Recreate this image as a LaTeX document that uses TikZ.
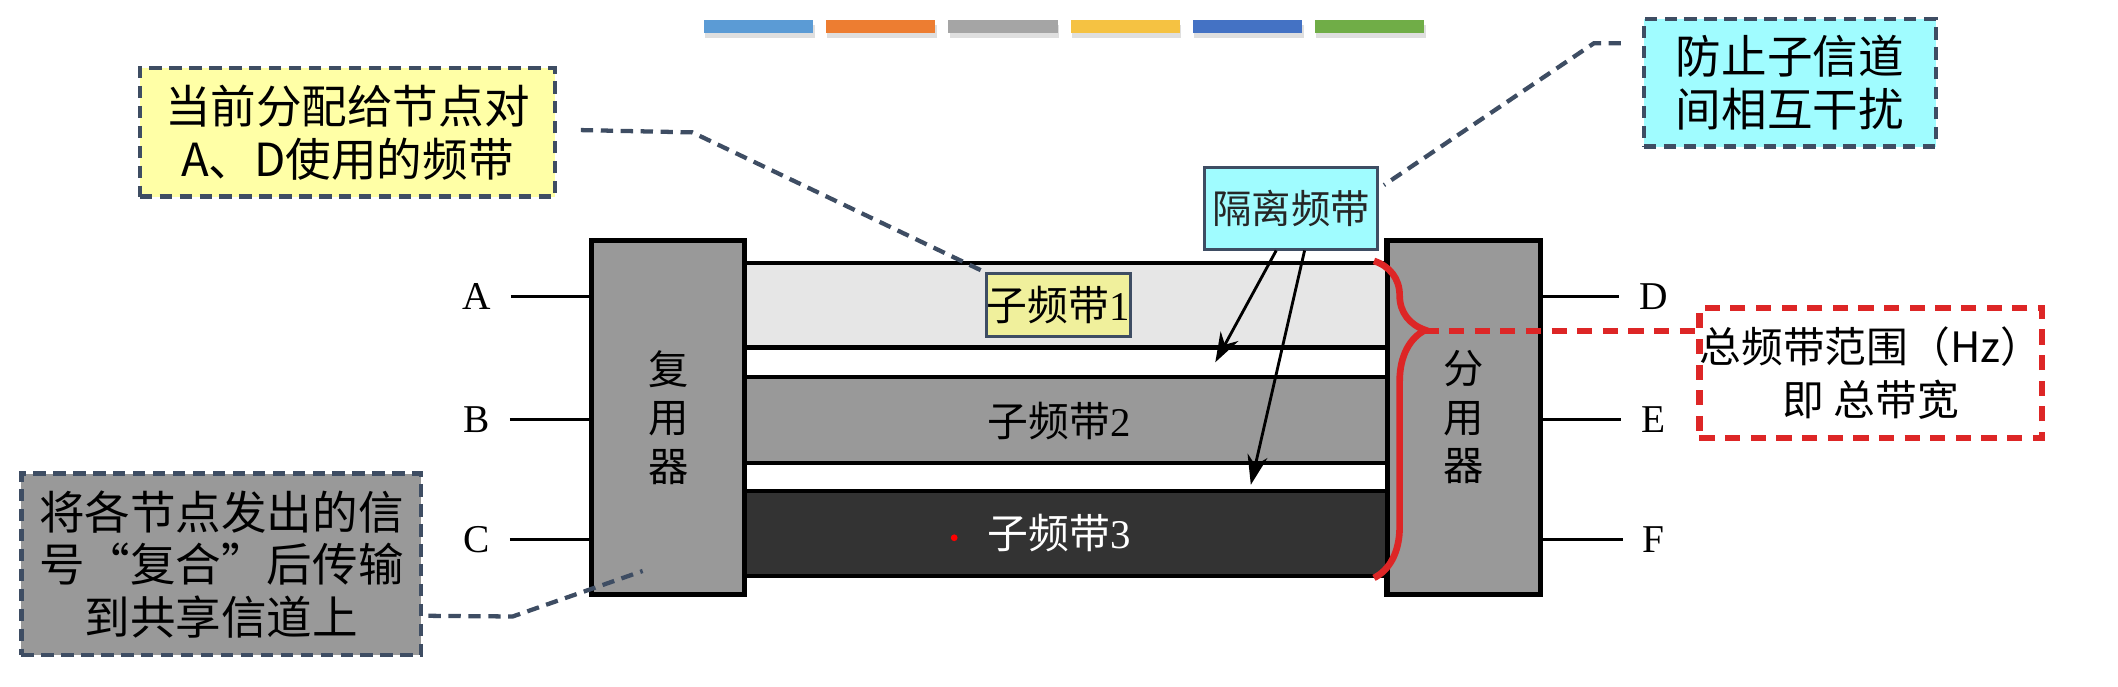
\documentclass[tikz,border=0pt]{standalone}
\usepackage{fontspec}
\setmainfont{Liberation Serif}
\newfontfamily\cjk{Noto Sans CJK SC}
\usetikzlibrary{decorations.pathreplacing,shadows,arrows.meta}

\definecolor{barblue}{HTML}{5B9BD5}
\definecolor{barorange}{HTML}{ED7D31}
\definecolor{bargray}{HTML}{A5A5A5}
\definecolor{baryellow}{HTML}{F5C242}
\definecolor{bardarkblue}{HTML}{4472C4}
\definecolor{bargreen}{HTML}{70AD47}
\definecolor{unitgray}{HTML}{999999}
\definecolor{bandlight}{HTML}{E6E6E6}
\definecolor{bandmid}{HTML}{999999}
\definecolor{banddark}{HTML}{333333}
\definecolor{noteyellow}{HTML}{FFFFA6}
\definecolor{notecyan}{HTML}{A0FCFF}
\definecolor{notegray}{HTML}{999999}
\definecolor{tagyellow}{HTML}{F0F09C}
\definecolor{leadercol}{HTML}{3E4D63}
\definecolor{redline}{HTML}{DD2626}

\tikzset{
  colorbar/.style={minimum width=0.81cm, minimum height=0.095cm, inner sep=0pt,
    drop shadow={opacity=0.25, shadow xshift=0.01cm, shadow yshift=-0.035cm}},
  unit/.style={draw=black, line width=1.1pt, fill=unitgray, inner sep=0pt,
    minimum width=1.134cm, minimum height=2.62cm, align=center,
    font=\cjk\fontsize{8.5}{10.2}\selectfont},
  band/.style={draw=black, line width=0.9pt, inner sep=0pt, minimum width=4.756cm},
  bandlabel/.style={inner sep=0pt, font=\fontsize{8.6}{9}\selectfont},
  port/.style={inner ysep=0pt, inner xsep=0.14cm, font=\fontsize{8.3}{9}\selectfont},
  wire/.style={line width=0.6pt},
  note/.style={draw=leadercol, line width=0.9pt, dash pattern=on 2.6pt off 1.6pt,
    inner sep=0pt, align=center, font=\cjk\fontsize{9.6}{11.1}\selectfont},
  leader/.style={draw=leadercol, line width=0.9pt, dash pattern=on 2.6pt off 1.6pt},
  redleader/.style={draw=redline, line width=1.3pt, dash pattern=on 3.2pt off 2.2pt},
  pointer/.style={-{Stealth[length=2.2mm,width=1.5mm]}, line width=0.6pt},
  bracket/.style={draw=redline, line width=1.4pt, decorate,
    decoration={brace, amplitude=0.38cm, aspect=0.218}}
}

\begin{document}
\begin{tikzpicture}
  \useasboundingbox (0,0) rectangle (15.68,-5.08);

  % The colour strip on top
  \foreach \col [count=\i] in {barblue,barorange,bargray,baryellow,bardarkblue,bargreen}
    \node[colorbar, fill=\col] (bar\i) at ({5.615+(\i-1)*0.905},-0.198) {};

  % Now the multiplexer, demultiplexer and the sub-bands between them
  \node[unit] (mux) at (4.947,-3.09) {复\\用\\器};
  \node[unit] (demux) at (10.835,-3.09) {分\\用\\器};
  \node[band, fill=bandlight, minimum height=0.625cm] (band1) at (7.892,-2.26) {};
  \node[band, fill=white, minimum height=0.22cm] (gap1) at (7.892,-2.682) {};
  \node[band, fill=bandmid, minimum height=0.637cm] (band2) at (7.892,-3.11) {};
  \node[band, fill=white, minimum height=0.209cm] (gap2) at (7.892,-3.534) {};
  \node[band, fill=banddark, minimum height=0.625cm] (band3) at (7.892,-3.95) {};

  \node[bandlabel, draw=leadercol, line width=0.6pt, fill=tagyellow,
        minimum width=1.07cm, minimum height=0.465cm] (tag1) at (7.835,-2.257) {{\cjk 子频带}1};
  \node[bandlabel] (tag2) at (7.84,-3.12) {{\cjk 子频带}2};
  \node[bandlabel, text=white] (tag3) at (7.84,-3.944) {{\cjk 子频带}3};
  \fill[red] (7.064,-3.981) circle (0.025);

  % Now the nodes on both sides
  \node[port] (A) at (3.53,-2.195) {A};
  \node[port] (B) at (3.53,-3.106) {B};
  \node[port] (C) at (3.53,-3.997) {C};
  \node[port] (D) at (12.24,-2.195) {D};
  \node[port] (E) at (12.24,-3.106) {E};
  \node[port] (F) at (12.24,-3.997) {F};
  \draw[wire] (A) -- (A -| mux.west);
  \draw[wire] (B) -- (B -| mux.west);
  \draw[wire] (C) -- (C -| mux.west);
  \draw[wire] (demux.east |- D) -- (D);
  \draw[wire] (demux.east |- E) -- (E);
  \draw[wire] (demux.east |- F) -- (F);

  % Now the guard bands
  \node[draw=leadercol, line width=0.6pt, fill=notecyan, inner sep=0pt,
        minimum width=1.276cm, minimum height=0.602cm, text=black!85,
        font=\cjk\fontsize{8.3}{9}\selectfont] (guard) at (9.558,-1.543) {隔离频带};
  \draw[pointer] ([xshift=-0.11cm]guard.south) -- ([xshift=1.105cm]gap1.center);
  \draw[pointer] ([xshift=0.10cm]guard.south) -- ([xshift=1.368cm,yshift=-0.055cm]gap2.center);

  % Now the callouts
  \node[note, fill=noteyellow, minimum width=3.075cm, minimum height=0.951cm] (useAD)
    at (2.572,-0.98) {当前分配给节点对\\A、D使用的频带};
  \node[note, fill=notegray, minimum width=2.96cm, minimum height=1.345cm] (mixing)
    at (1.639,-4.178) {将各节点发出的信\\号“复合”后传输\\到共享信道上};
  \node[note, fill=notecyan, minimum width=2.16cm, minimum height=0.943cm] (noise)
    at (13.25,-0.614) {防止子信道\\间相互干扰};
  \node[note, draw=redline, line width=1.3pt, dash pattern=on 3.2pt off 2.2pt,
        minimum width=2.46cm, minimum height=0.96cm,
        font=\cjk\fontsize{8.8}{11.1}\selectfont] (total)
    at (13.85,-2.76) {总频带范围（Hz）\\即 总带宽};

  \coordinate (outAD) at (4.30,-0.963);
  \coordinate (kneeAD) at (5.125,-0.98);
  \draw[leader] (outAD) -- (kneeAD) -- (tag1.north west);

  \coordinate (outNoise) at (12.00,-0.32);
  \coordinate (kneeNoise) at (11.80,-0.32);
  \coordinate (inGuard) at (10.246,-1.37);
  \draw[leader] (outNoise) -- (kneeNoise) -- (inGuard);

  \coordinate (outMix) at (3.172,-4.559);
  \coordinate (kneeMix) at (3.795,-4.564);
  \coordinate (inMux) at (4.758,-4.227);
  \draw[leader] (outMix) -- (kneeMix) -- (inMux);

  % Now the total bandwidth brace
  \coordinate (braceTop) at ([xshift=-0.114cm]band1.north east);
  \coordinate (braceBot) at ([xshift=-0.114cm]band3.south east);
  \draw[bracket] (braceTop) -- (braceBot);
  \coordinate (braceTip) at (10.537,-2.449);
  \coordinate (inTotal) at (12.55,-2.449);
  \draw[redleader] (braceTip) -- (inTotal);

\end{tikzpicture}
\end{document}
